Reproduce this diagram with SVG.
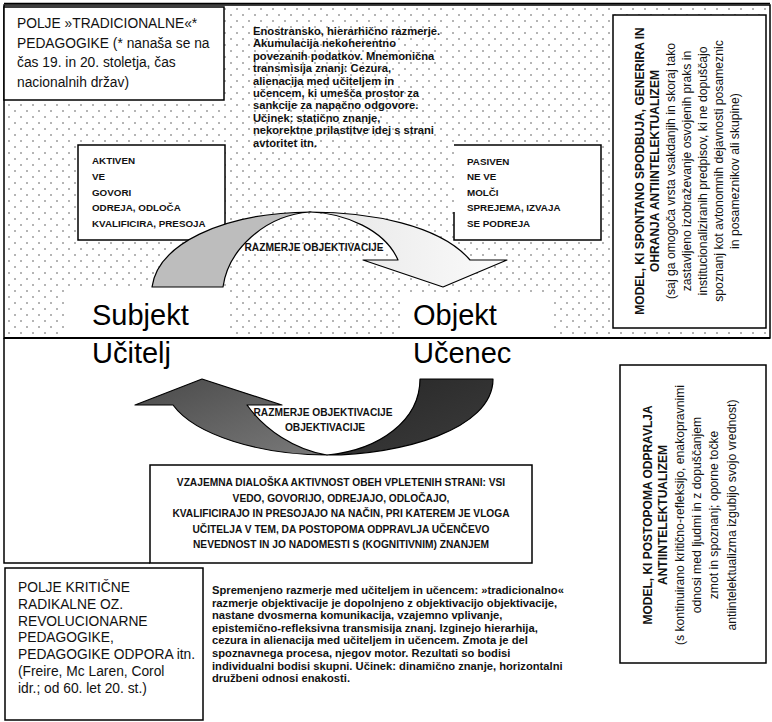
<svg xmlns="http://www.w3.org/2000/svg" width="772" height="722" viewBox="0 0 772 722">
<defs>
<pattern id="dots" width="12" height="12" patternUnits="userSpaceOnUse"><circle cx="3" cy="3" r="0.8" fill="#555"/><circle cx="9" cy="9" r="0.8" fill="#555"/></pattern>
<linearGradient id="gLight" x1="0" y1="0" x2="1" y2="0"><stop offset="0" stop-color="#e6e6e6"/><stop offset="1" stop-color="#fbfbfb"/></linearGradient>
<linearGradient id="gDarkL" x1="0" y1="0" x2="1" y2="1"><stop offset="0" stop-color="#4a4a4a"/><stop offset="1" stop-color="#7a7a7a"/></linearGradient>
<linearGradient id="gDarkR" x1="0" y1="0" x2="1" y2="1"><stop offset="0" stop-color="#262626"/><stop offset="1" stop-color="#3c3c3c"/></linearGradient>
<style>
.box{fill:#fff;stroke:#000;stroke-width:1.5}
.ln{fill:none;stroke:#000;stroke-width:1.5}
.t13{font-family:"Liberation Sans",Arial,sans-serif;font-size:13.8px;fill:#111}
.tb10{font-family:"Liberation Sans",Arial,sans-serif;font-size:9.8px;font-weight:bold;fill:#111}
.tp{font-family:"Liberation Sans",Arial,sans-serif;font-size:11.2px;font-weight:bold;fill:#111}
.tv{font-family:"Liberation Sans",Arial,sans-serif;font-size:10.2px;font-weight:bold;fill:#111}
.big{font-family:"Liberation Sans",Arial,sans-serif;font-size:29px;fill:#000}
.rt{font-family:"Liberation Sans",Arial,sans-serif;font-size:12px;font-weight:bold;fill:#111}
.rn{font-family:"Liberation Sans",Arial,sans-serif;font-size:12.2px;fill:#111}
.arrow{stroke:#000;stroke-width:1.2;stroke-linejoin:round}
</style>
</defs>
<rect width="772" height="722" fill="#fff"/>
<g id="frame">
<rect x="4" y="5" width="766" height="333" fill="url(#dots)" stroke="#000" stroke-width="1.5"/>
<line x1="4" y1="3.5" x2="770" y2="3.5" stroke="#000" stroke-width="1.5"/>
<line x1="4" y1="338" x2="770" y2="338" stroke="#000" stroke-width="2.2"/>
<polyline class="ln" points="4,338 4,563 150,563"/>
<rect x="68" y="290" width="160" height="47" fill="#fff"/>
<rect x="400" y="292" width="154" height="45" fill="#fff"/>
</g>
<g id="n-trad">
<rect class="box" x="4" y="7" width="220" height="93"/>
<text class="t13" x="17" y="28">POLJE »TRADICIONALNE«*</text>
<text class="t13" x="17" y="47.5">PEDAGOGIKE (* nanaša se na</text>
<text class="t13" x="17" y="67">čas 19. in 20. stoletja, čas</text>
<text class="t13" x="17" y="86.5">nacionalnih držav)</text>
</g>
<g id="n-tradtext">
<text class="tp" x="253" y="35">Enostransko, hierarhično razmerje.</text>
<text class="tp" x="253" y="47.4">Akumulacija nekoherentno</text>
<text class="tp" x="253" y="59.8">povezanih podatkov. Mnemonična</text>
<text class="tp" x="253" y="72.2">transmisija znanj:  Cezura,</text>
<text class="tp" x="253" y="84.6">alienacija med učiteljem in</text>
<text class="tp" x="253" y="97">učencem, ki umešča prostor za</text>
<text class="tp" x="253" y="109.4">sankcije za napačno odgovore.</text>
<text class="tp" x="253" y="121.8">Učinek: statično znanje,</text>
<text class="tp" x="253" y="134.2">nekorektne prilastitve idej s strani</text>
<text class="tp" x="253" y="146.6">avtoritet itn.</text>
</g>
<g id="n-aktiven">
<rect class="box" x="78" y="145" width="147" height="95"/>
<text class="tb10" x="92" y="164">AKTIVEN</text>
<text class="tb10" x="92" y="180">VE</text>
<text class="tb10" x="92" y="196">GOVORI</text>
<text class="tb10" x="92" y="211">ODREJA, ODLOČA</text>
<text class="tb10" x="92" y="227">KVALIFICIRA, PRESOJA</text>
</g>
<g id="n-pasiven">
<rect x="454" y="145" width="147" height="95" fill="#fff"/>
<path class="ln" d="M454,212 L454,240 L601,240 L601,145 L454,145"/>
<text class="tb10" x="467" y="165">PASIVEN</text>
<text class="tb10" x="467" y="180">NE VE</text>
<text class="tb10" x="467" y="196">MOLČI</text>
<text class="tb10" x="467" y="211">SPREJEMA, IZVAJA</text>
<text class="tb10" x="467" y="227">SE PODREJA</text>
</g>
<g id="n-model1">
<rect class="box" x="613" y="15" width="153" height="313"/>
<g transform="translate(640,171) rotate(-90)">
<text class="rt" x="0" y="4" text-anchor="middle">MODEL, KI SPONTANO SPODBUJA, GENERIRA IN</text>
<text class="rt" x="0" y="19" text-anchor="middle">OHRANJA ANTIINTELEKTUALIZEM</text>
<text class="rn" x="0" y="35" text-anchor="middle">(saj ga omogoča vrsta vsakdanjih in skoraj tako</text>
<text class="rn" x="0" y="51" text-anchor="middle">zastavljeno izobraževanje osvojenih praks in</text>
<text class="rn" x="0" y="67" text-anchor="middle">institucionaliziranih predpisov, ki ne dopuščajo</text>
<text class="rn" x="0" y="83" text-anchor="middle">spoznanj kot avtonomnih dejavnosti posameznic</text>
<text class="rn" x="0" y="99" text-anchor="middle">in posameznikov ali skupine)</text>
</g>
</g>
<g id="connectors">
<path class="arrow" fill="#bdbdbd" d="M152,287 C158,245 220,213 310,212 C265,215 228,250 223,287 Z"/>
<path class="arrow" fill="url(#gLight)" d="M310,212 C370,212 440,225 470,260 L507,260 L443,287 L363,260 L398,260 C385,230 345,213 310,212 Z"/>
<path class="arrow" fill="url(#gDarkR)" d="M420,379 L493,379 C493,430 400,455 327,455 C380,450 420,420 420,379 Z"/>
<path class="arrow" fill="url(#gDarkL)" d="M173,405 C195,435 260,455 327,455 C295,450 265,430 247,405 L282,405 L202,379 L135,405 Z"/>
</g>
<g id="labels">
<text class="tv" x="314" y="251" text-anchor="middle">RAZMERJE OBJEKTIVACIJE</text>
<text class="tv" x="323" y="416" text-anchor="middle">RAZMERJE OBJEKTIVACIJE</text>
<text class="tv" x="325" y="431" text-anchor="middle">OBJEKTIVACIJE</text>
</g>
<g id="n-subjekt">
<text class="big" x="92" y="325">Subjekt</text>
<text class="big" x="92" y="363">Učitelj</text>
</g>
<g id="n-objekt">
<text class="big" x="413" y="325">Objekt</text>
<text class="big" x="413" y="363">Učenec</text>
</g>
<g id="n-model2">
<rect class="box" x="620" y="365" width="146" height="298"/>
<g transform="translate(648,515) rotate(-90)">
<text class="rt" x="0" y="4" text-anchor="middle">MODEL, KI POSTOPOMA ODPRAVLJA</text>
<text class="rt" x="0" y="19" text-anchor="middle">ANTIINTELEKTUALIZEM</text>
<text class="rn" x="0" y="36" text-anchor="middle">(s kontinuirano kritično-refleksijo, enakopravnimi</text>
<text class="rn" x="0" y="53" text-anchor="middle">odnosi med ljudmi in z dopuščanjem</text>
<text class="rn" x="0" y="70" text-anchor="middle">zmot in spoznanj; oporne točke</text>
<text class="rn" x="0" y="88" text-anchor="middle">antiintelektualizma izgubijo svojo vrednost)</text>
</g>
</g>
<g id="n-vzajemna">
<rect class="box" x="150" y="465" width="382" height="98"/>
<text class="tv" x="341" y="486" text-anchor="middle">VZAJEMNA DIALOŠKA AKTIVNOST OBEH VPLETENIH STRANI: VSI</text>
<text class="tv" x="341" y="501.5" text-anchor="middle">VEDO, GOVORIJO, ODREJAJO, ODLOČAJO,</text>
<text class="tv" x="341" y="517" text-anchor="middle">KVALIFICIRAJO IN PRESOJAJO NA NAČIN, PRI KATEREM JE VLOGA</text>
<text class="tv" x="341" y="532.5" text-anchor="middle">UČITELJA V TEM, DA POSTOPOMA ODPRAVLJA UČENČEVO</text>
<text class="tv" x="341" y="548" text-anchor="middle">NEVEDNOST IN JO NADOMESTI S (KOGNITIVNIM) ZNANJEM</text>
</g>
<g id="n-kriticna">
<rect class="box" x="5" y="568" width="198" height="152"/>
<text class="t13" x="18" y="592">POLJE KRITIČNE</text>
<text class="t13" x="18" y="608.8">RADIKALNE OZ.</text>
<text class="t13" x="18" y="625.6">REVOLUCIONARNE</text>
<text class="t13" x="18" y="642.4">PEDAGOGIKE,</text>
<text class="t13" x="18" y="659.2">PEDAGOGIKE ODPORA itn.</text>
<text class="t13" x="18" y="676">(Freire, Mc Laren, Corol</text>
<text class="t13" x="18" y="692.8">idr.; od 60. let 20. st.)</text>
</g>
<g id="n-kritext">
<text class="tp" x="212" y="594">Spremenjeno razmerje med učiteljem in učencem: »tradicionalno«</text>
<text class="tp" x="212" y="606.6">razmerje objektivacije je dopolnjeno z objektivacijo objektivacije,</text>
<text class="tp" x="212" y="619.2">nastane dvosmerna komunikacija, vzajemno vplivanje,</text>
<text class="tp" x="212" y="631.8">epistemično-refleksivna transmisija znanj. Izginejo hierarhija,</text>
<text class="tp" x="212" y="644.4">cezura in alienacija med učiteljem in učencem. Zmota je del</text>
<text class="tp" x="212" y="657">spoznavnega procesa, njegov motor.  Rezultati so bodisi</text>
<text class="tp" x="212" y="669.6">individualni bodisi skupni. Učinek: dinamično znanje, horizontalni</text>
<text class="tp" x="212" y="682.2">družbeni odnosi enakosti.</text>
</g>
</svg>
